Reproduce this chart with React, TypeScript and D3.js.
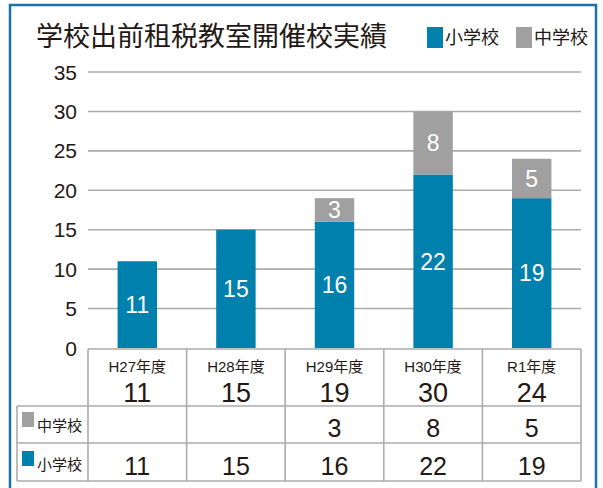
import React from "react";
import * as d3 from "d3";

const categories = ["H27年度", "H28年度", "H29年度", "H30年度", "R1年度"];
const elementary = [11, 15, 16, 22, 19];
const junior = [0, 0, 3, 8, 5];
const totals = [11, 15, 19, 30, 24];
const yTicks = [0, 5, 10, 15, 20, 25, 30, 35];
const seriesNames = ["小学校", "中学校"];
const title = "学校出前租税教室開催校実績";

const BLUE = "#0080ad";
const GRAY = "#a0a0a0";
const FRAME = "#1a72a6";
const LINE = "#ababab";
const TEXT = "#231815";
const FONT = "'Liberation Sans', Arial, 'Noto Sans CJK JP', sans-serif";
const CJK = "'Noto Sans CJK JP', sans-serif";

export default function App() {
  const W = 603, H = 488;
  const x0 = 88, x1 = 581;
  const x = d3.scaleBand<string>().domain(categories).range([x0, x1]).padding(0);
  const y = d3.scaleLinear().domain([0, 35]).range([348, 72]);
  const barW = x.bandwidth() * 0.4;

  const tableTop = 349, row1 = 406, row2 = 443, tableBottom = 481;
  const labelLeft = 17;

  return (
    <svg width={W} height={H} style={{ position: "absolute", left: 0, top: 0 }} fontFamily={FONT}>
      <rect x={0} y={0} width={W} height={H} fill="#fff" />
      <rect x={10} y={5} width={586} height={500} fill="none" stroke={FRAME} strokeWidth={2.5} />

      <text x={36} y={46} fontSize={27} fontFamily={CJK} fill={TEXT}>{title}</text>

      {/* legend */}
      <rect x={427} y={27} width={16} height={21} fill={BLUE} />
      <text x={445} y={44} fontSize={18} fontFamily={CJK} fill={TEXT}>{seriesNames[0]}</text>
      <rect x={516} y={27} width={16} height={21} fill={GRAY} />
      <text x={534} y={44} fontSize={18} fontFamily={CJK} fill={TEXT}>{seriesNames[1]}</text>

      {/* grid + y ticks */}
      {yTicks.map((t) => (
        <g key={t}>
          {t > 0 && <line x1={x0} x2={x1} y1={y(t)} y2={y(t)} stroke={LINE} strokeWidth={1.6} />}
          <text x={77} y={y(t)} dy="0.36em" textAnchor="end" fontSize={21} fill={TEXT}>{t}</text>
        </g>
      ))}

      {/* bars */}
      {categories.map((c, i) => {
        const cx = (x(c) as number) + x.bandwidth() / 2;
        const e = elementary[i], j = junior[i];
        return (
          <g key={c}>
            <rect x={cx - barW / 2} y={y(e)} width={barW} height={y(0) - y(e)} fill={BLUE} />
            <text x={cx} y={(y(e) + y(0)) / 2} dy="0.36em" textAnchor="middle" fontSize={23} fill="#fff">{e}</text>
            {j > 0 && (
              <g>
                <rect x={cx - barW / 2} y={y(e + j)} width={barW} height={y(e) - y(e + j)} fill={GRAY} />
                <text x={cx} y={(y(e + j) + y(e)) / 2} dy="0.36em" textAnchor="middle" fontSize={23} fill="#fff">{j}</text>
              </g>
            )}
          </g>
        );
      })}

      {/* table */}
      <g stroke={LINE} strokeWidth={1.6} fill="none">
        <line x1={x0} x2={x1} y1={tableTop} y2={tableTop} />
        <line x1={labelLeft} x2={x1} y1={row1} y2={row1} />
        <line x1={labelLeft} x2={x1} y1={row2} y2={row2} />
        <line x1={labelLeft} x2={x1} y1={tableBottom} y2={tableBottom} />
        <line x1={labelLeft} x2={labelLeft} y1={row1} y2={tableBottom} />
        {categories.map((c) => (
          <line key={c} x1={x(c) as number} x2={x(c) as number} y1={tableTop} y2={tableBottom} />
        ))}
        <line x1={x1} x2={x1} y1={tableTop} y2={tableBottom} />
      </g>

      {categories.map((c, i) => {
        const cx = (x(c) as number) + x.bandwidth() / 2;
        return (
          <g key={c} textAnchor="middle" fill={TEXT}>
            <text x={cx} y={372} fontSize={15}>
              {c.replace("年度", "")}<tspan fontFamily={CJK}>年度</tspan>
            </text>
            <text x={cx} y={402} fontSize={27}>{totals[i]}</text>
            <text x={cx} y={437} fontSize={25}>{junior[i] > 0 ? junior[i] : ""}</text>
            <text x={cx} y={475} fontSize={25}>{elementary[i]}</text>
          </g>
        );
      })}

      {/* row labels */}
      <rect x={22} y={412} width={12} height={15} fill={GRAY} />
      <text x={37} y={431} fontSize={15} fontFamily={CJK} fill={TEXT}>{seriesNames[1]}</text>
      <rect x={22} y={451} width={12} height={15} fill={BLUE} />
      <text x={37} y={470} fontSize={15} fontFamily={CJK} fill={TEXT}>{seriesNames[0]}</text>
    </svg>
  );
}
